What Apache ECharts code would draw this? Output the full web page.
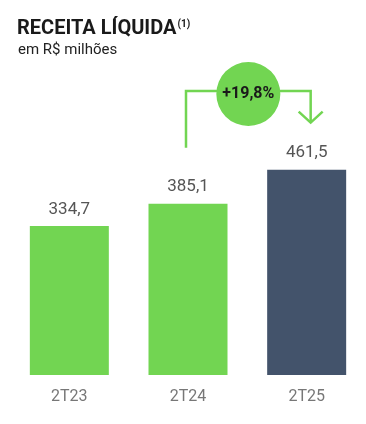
<!DOCTYPE html>
<html><head><meta charset="utf-8">
<script src="https://cdn.jsdelivr.net/npm/echarts@6/dist/echarts.min.js"></script>
<style>html,body{margin:0;padding:0;background:#fff}#c{width:366px;height:424px}</style>
</head><body><div id="c"></div>
<script>
const categories = ['2T23', '2T24', '2T25'];
const values = [334.7, 385.1, 461.5];
const valueLabels = ['334,7', '385,1', '461,5'];
const growthLabel = '+19,8%';
const green = '#72D552', navy = '#43536B';

const chart = echarts.init(document.getElementById('c'));
chart.setOption({
  animation: false,
  title: [
    {text: 'RECEITA LÍQUIDA{s|(1)}', left: 12, top: 14,
     textStyle: {fontFamily: 'Roboto', fontWeight: 'bold', fontSize: 20, color: '#1a1a1a',
       rich: {s: {fontFamily: 'Roboto', fontWeight: 'bold', fontSize: 10, color: '#1a1a1a', verticalAlign: 'top', padding: [0,0,10,1]}}}},
    {text: 'em R$ milhões', left: 13, top: 38,
     textStyle: {fontFamily: 'Roboto', fontWeight: 'normal', fontSize: 15, color: '#222'}}
  ],
  grid: {left: 10, width: 359, top: 108, bottom: 49},
  xAxis: {type: 'category', data: categories,
    axisLine: {show: false}, axisTick: {show: false},
    axisLabel: {margin: 14, fontFamily: 'Roboto', fontSize: 16, color: '#777'}},
  yAxis: {type: 'value', min: 0, max: 600, show: false, splitLine: {show: false}},
  series: [{
    type: 'bar', barWidth: 79,
    data: values.map((v, i) => ({value: v, itemStyle: {color: i === 2 ? navy : green}})),
    label: {show: true, position: 'top', distance: 8, fontFamily: 'Roboto', fontSize: 17, color: '#555',
      formatter: p => valueLabels[p.dataIndex]}
  }]
});

// Growth annotation derived from data positions
const p1 = chart.convertToPixel({seriesIndex: 0}, [1, values[1]]);
const p2 = chart.convertToPixel({seriesIndex: 0}, [2, values[2]]);
const x1 = p1[0] - 2, x2 = p2[0] + 4;
const yTop = 91;
const yStart = p1[1] - 56;
const yEnd = p2[1] - 47;
const cx = (x1 + x2) / 2, cy = 94;
chart.setOption({
  graphic: [
    {type: 'polyline', shape: {points: [[x1, yStart], [x1, yTop], [x2, yTop], [x2, yEnd]]},
     style: {stroke: green, lineWidth: 2.5, fill: null}},
    {type: 'polyline', shape: {points: [[x2 - 12, yEnd - 11], [x2, yEnd], [x2 + 12, yEnd - 11]]},
     style: {stroke: green, lineWidth: 2.5, fill: null}},
    {type: 'circle', shape: {cx: cx, cy: cy, r: 32}, style: {fill: green}},
    {type: 'text', x: cx, y: cy, style: {text: growthLabel, align: 'center', verticalAlign: 'middle',
      font: 'bold 16px Roboto', fill: '#1a1a1a'}}
  ]
});
</script></body></html>
